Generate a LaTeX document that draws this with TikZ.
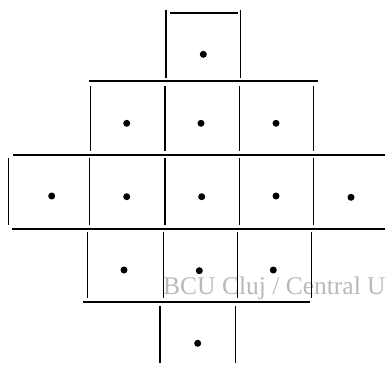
\documentclass[tikz,border=0pt]{standalone}
\usepackage{fontspec}
\setmainfont{Liberation Serif}
\definecolor{wmgray}{RGB}{185,185,185}
\begin{document}
\begin{tikzpicture}[x=1pt,y=-1pt,
  edge/.style={line width=1.3pt,black},
  dotc/.style={circle,fill=black,inner sep=0pt,minimum size=7pt},
  wmark/.style={text=wmgray,font=\fontsize{25.5}{26}\selectfont,inner sep=0pt,anchor=base west}]
\useasboundingbox (0,0) rectangle (387,369);
% watermark
\node[wmark] (wm) at (163,294) {BCU Cluj / Central U};
% row 1
\draw[edge] (170,13) -- (238,13);
\draw[edge] (166,10) -- (166,78);
\draw[edge] (240.7,10) -- (240.7,78);
% horizontal lines
\draw[edge] (89,81) -- (318,81);
\draw[edge] (13,155) -- (385,155);
\draw[edge] (12,229) -- (385,229);
\draw[edge] (83,302) -- (310,302);
% row 2 verticals
\foreach \x in {90.7,165,239.3,313.3} \draw[edge] (\x,86) -- (\x,151);
% row 3 verticals
\foreach \x in {8.3,89.3,165,239.3,313.3} \draw[edge] (\x,158) -- (\x,225);
% row 4 verticals
\foreach \x in {87.3,163.3,237.3,311.7} \draw[edge] (\x,232) -- (\x,298);
% row 5 verticals
\foreach \x in {160,235.7} \draw[edge] (\x,306) -- (\x,363);
% dots
\node[dotc] (a1) at (203.3,54.3) {};
\node[dotc] (b1) at (126.7,123.3) {};
\node[dotc] (b2) at (201,123.3) {};
\node[dotc] (b3) at (276,123.3) {};
\node[dotc] (c1) at (51.7,196) {};
\node[dotc] (c2) at (126.7,196.7) {};
\node[dotc] (c3) at (201.7,196.7) {};
\node[dotc] (c4) at (276,196) {};
\node[dotc] (c5) at (351,197.3) {};
\node[dotc] (d1) at (124,270) {};
\node[dotc] (d2) at (199.3,270.7) {};
\node[dotc] (d3) at (273.3,270) {};
\node[dotc] (e1) at (197.7,343.3) {};
\end{tikzpicture}
\end{document}
